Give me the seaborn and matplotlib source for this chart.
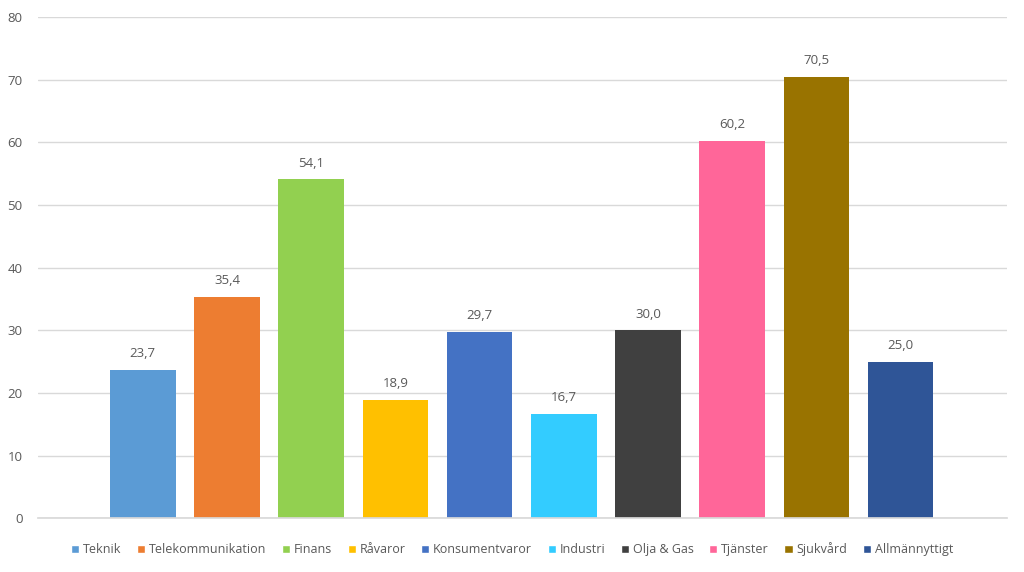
import pandas as pd
import matplotlib.pyplot as plt
import seaborn as sns
from matplotlib.patches import Patch

# data
sectors = ['Teknik', 'Telekommunikation', 'Finans', 'Råvaror', 'Konsumentvaror',
           'Industri', 'Olja & Gas', 'Tjänster', 'Sjukvård', 'Allmännyttigt']
values = [23.7, 35.4, 54.1, 18.9, 29.7, 16.7, 30.0, 60.2, 70.5, 25.0]
colors = ['#5B9BD5', '#ED7D31', '#92D050', '#FFC000', '#4472C4',
          '#33CCFF', '#404040', '#FF6699', '#997300', '#2F5597']

df = pd.DataFrame({'sector': sectors, 'value': values})

sns.set_theme(style="white")
plt.rcParams['font.family'] = ['Open Sans', 'DejaVu Sans']
text_col = '#595959'

fig = plt.figure(figsize=(10.24, 5.72), dpi=100)
ax = fig.add_axes([0.037, 0.094, 0.946, 0.876])

sns.barplot(data=df, x='sector', y='value', hue='sector', palette=colors,
            width=0.78, legend=False, ax=ax, saturation=1, linewidth=0)

for c in ax.containers:
    ax.bar_label(c, labels=[f"{v:.1f}".replace('.', ',') for v in c.datavalues],
                 padding=7, fontsize=9.5, color=text_col)

ax.set_ylim(0, 80)
ax.set_yticks(range(0, 81, 10))
ax.set_xlim(-1.247, 10.259)
ax.set_xticks([])
ax.set_xlabel('')
ax.set_ylabel('')
ax.yaxis.grid(True, color='#D9D9D9', linewidth=1)
ax.set_axisbelow(True)
for s in ['top', 'right', 'left']:
    ax.spines[s].set_visible(False)
ax.spines['bottom'].set_color('#D9D9D9')
ax.tick_params(axis='y', colors=text_col, labelsize=9.5, length=0, pad=11)

handles = [Patch(facecolor=c, label=s) for s, c in zip(sectors, colors)]
fig.legend(handles=handles, loc='center', bbox_to_anchor=(0.5, 0.04), ncol=10,
           frameon=False, fontsize=9, labelcolor=text_col,
           handlelength=0.65, handleheight=0.65, handletextpad=0.3, columnspacing=1.25)

fig.savefig('out.png', dpi=100)
